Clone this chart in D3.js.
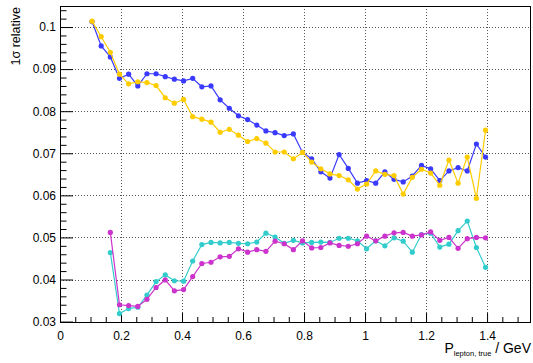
<!DOCTYPE html>
<html>
<head>
<meta charset="utf-8">
<script src="https://cdn.jsdelivr.net/npm/d3@7"></script>
<style>
  html, body { margin: 0; padding: 0; background: #fff; }
  svg { display: block; font-family: "Liberation Sans", Arial, sans-serif; }
</style>
</head>
<body>
<svg id="chart" width="533" height="363"></svg>
<script>
// ---- data ----
const momentum = [0.105,0.135,0.165,0.195,0.225,0.255,0.285,0.315,0.345,0.375,0.405,0.435,0.465,0.495,0.525,0.555,0.585,0.615,0.645,0.675,0.705,0.735,0.765,0.795,0.825,0.855,0.885,0.915,0.945,0.975,1.005,1.035,1.065,1.095,1.125,1.155,1.185,1.215,1.245,1.275,1.305,1.335,1.365,1.395];

const seriesBlue = [0.1013,0.0955,0.0929,0.0878,0.0888,0.0860,0.0889,0.0889,0.0882,0.0876,0.0872,0.0878,0.0858,0.0860,0.0827,0.0807,0.0789,0.0780,0.0767,0.0753,0.0749,0.0742,0.0746,0.0702,0.0687,0.0656,0.0641,0.0697,0.0664,0.0629,0.0635,0.0629,0.0656,0.0638,0.0632,0.0646,0.0671,0.0663,0.0635,0.0658,0.0666,0.0658,0.0722,0.0691];

const seriesYellow = [0.1014,0.0977,0.0940,0.0888,0.0865,0.0870,0.0868,0.0861,0.0832,0.0819,0.0828,0.0787,0.0781,0.0774,0.0750,0.0757,0.0743,0.0728,0.0735,0.0724,0.0703,0.0703,0.0687,0.0702,0.0679,0.0663,0.0651,0.0647,0.0637,0.0615,0.0627,0.0658,0.0650,0.0647,0.0603,0.0643,0.0662,0.0653,0.0624,0.0684,0.0629,0.0691,0.0593,0.0755];

const seriesCyan = [null,null,0.0464,0.0319,0.0331,0.0334,0.0363,0.0395,0.0411,0.0397,0.0396,0.0444,0.0483,0.0488,0.0487,0.0488,0.0486,0.0485,0.0489,0.0510,0.0501,0.0486,0.0493,0.0487,0.0488,0.0489,0.0488,0.0498,0.0498,0.0492,0.0473,0.0492,0.0480,0.0499,0.0491,0.0465,0.0507,0.0510,0.0477,0.0484,0.0516,0.0539,0.0476,0.0429];

const seriesMagenta = [null,null,0.0512,0.0340,0.0338,0.0336,0.0353,0.0381,0.0399,0.0373,0.0376,0.0407,0.0438,0.0441,0.0454,0.0455,0.0473,0.0465,0.0471,0.0467,0.0491,0.0485,0.0471,0.0492,0.0475,0.0476,0.0487,0.0481,0.0479,0.0485,0.0503,0.0492,0.0503,0.0511,0.0512,0.0503,0.0506,0.0513,0.0493,0.0500,0.0474,0.0497,0.0500,0.0499];

const xTickValues = [0,0.2,0.4,0.6,0.8,1.0,1.2,1.4];
const xTickLabels = ["0","0.2","0.4","0.6","0.8","1","1.2","1.4"];
const yTickValues = [0.03,0.04,0.05,0.06,0.07,0.08,0.09,0.1];
const yTickLabels = ["0.03","0.04","0.05","0.06","0.07","0.08","0.09","0.1"];

const series = [
  { values: seriesBlue,    color: "#3a3aff" },
  { values: seriesYellow,  color: "#ffcc00" },
  { values: seriesCyan,    color: "#33cccc" },
  { values: seriesMagenta, color: "#cc33cc" }
];

// ---- layout ----
const frame = { left: 60, right: 531, top: 6, bottom: 322 };
const svg = d3.select("#chart");

const x = d3.scaleLinear().domain([0, 1.544]).range([frame.left, frame.right]);
const y = d3.scaleLinear().domain([0.0299, 0.105]).range([frame.bottom, frame.top]);

// minor tick positions
const xMinor = d3.range(0, 1.5001, 0.05).filter(v => Math.abs(v / 0.2 - Math.round(v / 0.2)) > 1e-6);
const yMinor = d3.range(0.03, 0.1049, 0.002).filter(v => Math.abs(v / 0.01 - Math.round(v / 0.01)) > 1e-6);

// grid
const grid = svg.append("g").attr("class", "grid");
grid.selectAll("line.gx").data(xTickValues.filter(v => v > 0)).join("line")
  .attr("x1", d => Math.round(x(d)) + 0.5).attr("x2", d => Math.round(x(d)) + 0.5)
  .attr("y1", frame.top).attr("y2", frame.bottom)
  .attr("stroke", "#555").attr("stroke-width", 1).attr("stroke-dasharray", "1,2");
grid.selectAll("line.gy").data(yTickValues).join("line")
  .attr("x1", frame.left).attr("x2", frame.right)
  .attr("y1", d => Math.round(y(d)) + 0.5).attr("y2", d => Math.round(y(d)) + 0.5)
  .attr("stroke", "#555").attr("stroke-width", 1).attr("stroke-dasharray", "1,2");

// axes
const xAxis = d3.axisBottom(x).tickValues(xTickValues)
  .tickFormat((d, i) => xTickLabels[i]).tickSize(-9).tickPadding(9.5);
const gx = svg.append("g").attr("transform", `translate(0,${frame.bottom})`).call(xAxis);
gx.select(".domain").remove();
gx.selectAll("text").attr("font-size", 12).attr("fill", "#000")
  .attr("font-family", "'Liberation Sans', Arial, sans-serif");
gx.selectAll("line").attr("stroke", "#000");

const xAxisMinor = d3.axisBottom(x).tickValues(xMinor).tickFormat("").tickSize(-5);
const gxm = svg.append("g").attr("transform", `translate(0,${frame.bottom})`).call(xAxisMinor);
gxm.select(".domain").remove();
gxm.selectAll("line").attr("stroke", "#000");

const yAxis = d3.axisLeft(y).tickValues(yTickValues)
  .tickFormat((d, i) => yTickLabels[i]).tickSize(-13).tickPadding(4);
const gy = svg.append("g").attr("transform", `translate(${frame.left},0)`).call(yAxis);
gy.select(".domain").remove();
gy.selectAll("text").attr("font-size", 12).attr("fill", "#000")
  .attr("font-family", "'Liberation Sans', Arial, sans-serif");
gy.selectAll("line").attr("stroke", "#000");

const yAxisMinor = d3.axisLeft(y).tickValues(yMinor).tickFormat("").tickSize(-6.5);
const gym = svg.append("g").attr("transform", `translate(${frame.left},0)`).call(yAxisMinor);
gym.select(".domain").remove();
gym.selectAll("line").attr("stroke", "#000");

// frame
svg.append("rect")
  .attr("x", frame.left + 0.5).attr("y", frame.top + 0.5)
  .attr("width", frame.right - frame.left - 1).attr("height", frame.bottom - frame.top)
  .attr("fill", "none").attr("stroke", "#000").attr("stroke-width", 1);

// series
const line = d3.line()
  .defined(d => d[1] !== null)
  .x(d => x(d[0])).y(d => y(d[1]));

series.forEach(s => {
  const pts = momentum.map((m, i) => [m, s.values[i]]);
  const g = svg.append("g");
  g.append("path").datum(pts)
    .attr("d", line).attr("fill", "none")
    .attr("stroke", s.color).attr("stroke-width", 1.2);
  g.selectAll("circle").data(pts.filter(p => p[1] !== null)).join("circle")
    .attr("cx", d => x(d[0])).attr("cy", d => y(d[1])).attr("r", 2.6)
    .attr("fill", s.color);
});

// axis titles
svg.append("text")
  .attr("transform", "translate(19.5,7) rotate(-90)")
  .attr("text-anchor", "end").attr("font-size", 12.5)
  .text("1σ relative");

const xt = svg.append("text")
  .attr("x", frame.right).attr("y", 353)
  .attr("text-anchor", "end").attr("font-size", 14);
xt.append("tspan").text("P");
xt.append("tspan").attr("font-size", 7.5).attr("dy", 3).text("lepton, true");
xt.append("tspan").attr("dy", -3).text(" / GeV");
</script>
</body>
</html>
